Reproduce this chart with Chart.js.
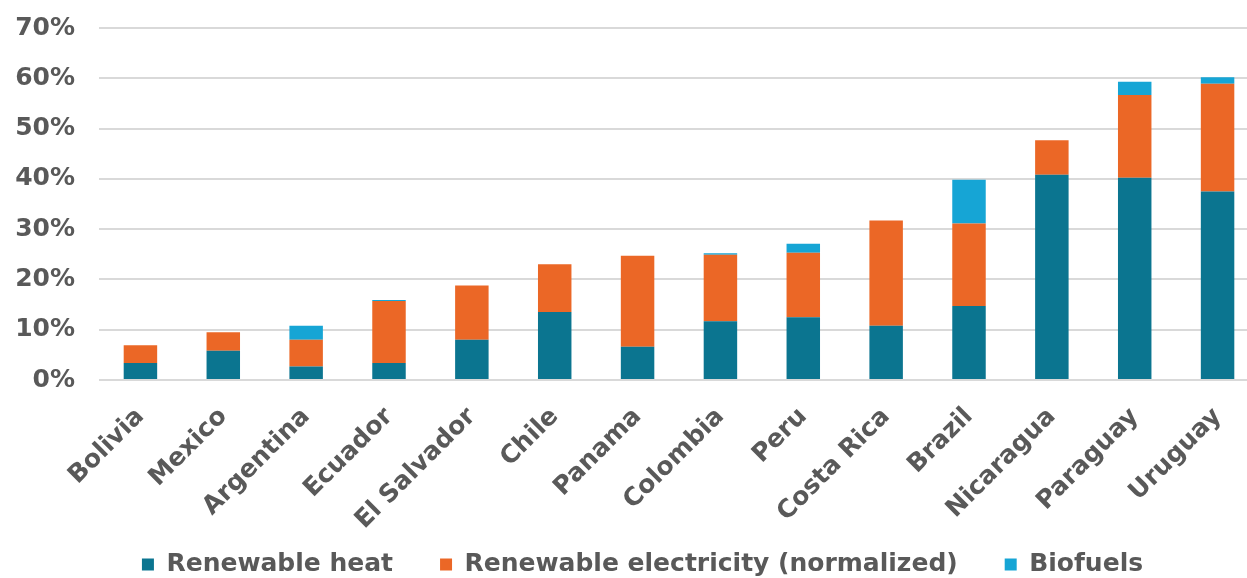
<!DOCTYPE html>
<html>
<head>
<meta charset="utf-8">
<script src="https://cdn.jsdelivr.net/npm/chart.js@4/dist/chart.umd.min.js"></script>
<style>
  html, body { margin: 0; padding: 0; background: #ffffff; overflow: hidden; }
  #wrap { width: 1247px; height: 578px; overflow: hidden; position: relative; }
  canvas { display: block; }
</style>
</head>
<body>
<div id="wrap"><canvas id="c" width="1262" height="632"></canvas></div>
<script>
// Share of renewables by country (% of final energy)
const countries = ['Bolivia', 'Mexico', 'Argentina', 'Ecuador', 'El Salvador', 'Chile', 'Panama',
  'Colombia', 'Peru', 'Costa Rica', 'Brazil', 'Nicaragua', 'Paraguay', 'Uruguay'];
const renewableHeat = [3.4, 5.8, 2.7, 3.4, 8.0, 13.5, 6.6, 11.7, 12.5, 10.8, 14.7, 40.8, 40.2, 37.5];
const renewableElectricity = [3.5, 3.7, 5.3, 12.3, 10.8, 9.5, 18.1, 13.2, 12.8, 20.9, 16.4, 6.9, 16.5, 21.4];
const biofuels = [0, 0, 2.8, 0.2, 0, 0, 0, 0.3, 1.8, 0, 8.7, 0, 2.6, 1.3];
const yTicks = [0, 10, 20, 30, 40, 50, 60, 70];

const textColor = '#595959';
const fontFamily = '"DejaVu Sans", Verdana, sans-serif';

// Move the legend row up into the space under the rotated labels and nudge it right
const legendShift = {
  id: 'legendShift',
  afterLayout(chart) {
    const lg = chart.legend;
    if (lg) {
      lg.left += 13; lg.right += 13;
      lg.top -= 45; lg.bottom -= 45;
    }
  }
};

new Chart(document.getElementById('c'), {
  type: 'bar',
  data: {
    labels: countries,
    datasets: [
      { label: 'Renewable heat', data: renewableHeat, backgroundColor: '#0b7590' },
      { label: 'Renewable electricity (normalized)', data: renewableElectricity, backgroundColor: '#eb6726' },
      { label: 'Biofuels', data: biofuels, backgroundColor: '#16a5d5' }
    ]
  },
  options: {
    responsive: false,
    animation: false,
    devicePixelRatio: 1,
    layout: { padding: { top: 28, right: 3, left: 0, bottom: 0 } },
    datasets: { bar: { categoryPercentage: 1, barPercentage: 0.404 } },
    plugins: {
      tooltip: { enabled: false },
      legend: {
        position: 'bottom',
        labels: {
          boxWidth: 12, boxHeight: 12, padding: 47,
          color: textColor,
          font: { family: fontFamily, size: 25, weight: 'bold' }
        }
      }
    },
    scales: {
      x: {
        stacked: true,
        grid: { display: false },
        border: { display: false },
        ticks: {
          autoSkip: false, minRotation: 45, maxRotation: 45, padding: 14,
          color: textColor,
          font: { family: fontFamily, size: 25, weight: 'bold' }
        },
        afterFit(scale) { scale.height = 170; }
      },
      y: {
        stacked: true,
        min: 0, max: 70,
        afterBuildTicks(scale) { scale.ticks = yTicks.map(v => ({ value: v })); },
        grid: { color: '#d9d9d9', lineWidth: 2, drawTicks: false },
        border: { display: false },
        ticks: {
          padding: 24,
          color: textColor,
          font: { family: fontFamily, size: 25, weight: 'bold' },
          callback: v => v + '%'
        },
        afterFit(scale) {
          scale.width = 99;
          scale.paddingTop = 0;
          scale.paddingBottom = 0;
        }
      }
    }
  },
  plugins: [legendShift]
});
</script>
</body>
</html>
